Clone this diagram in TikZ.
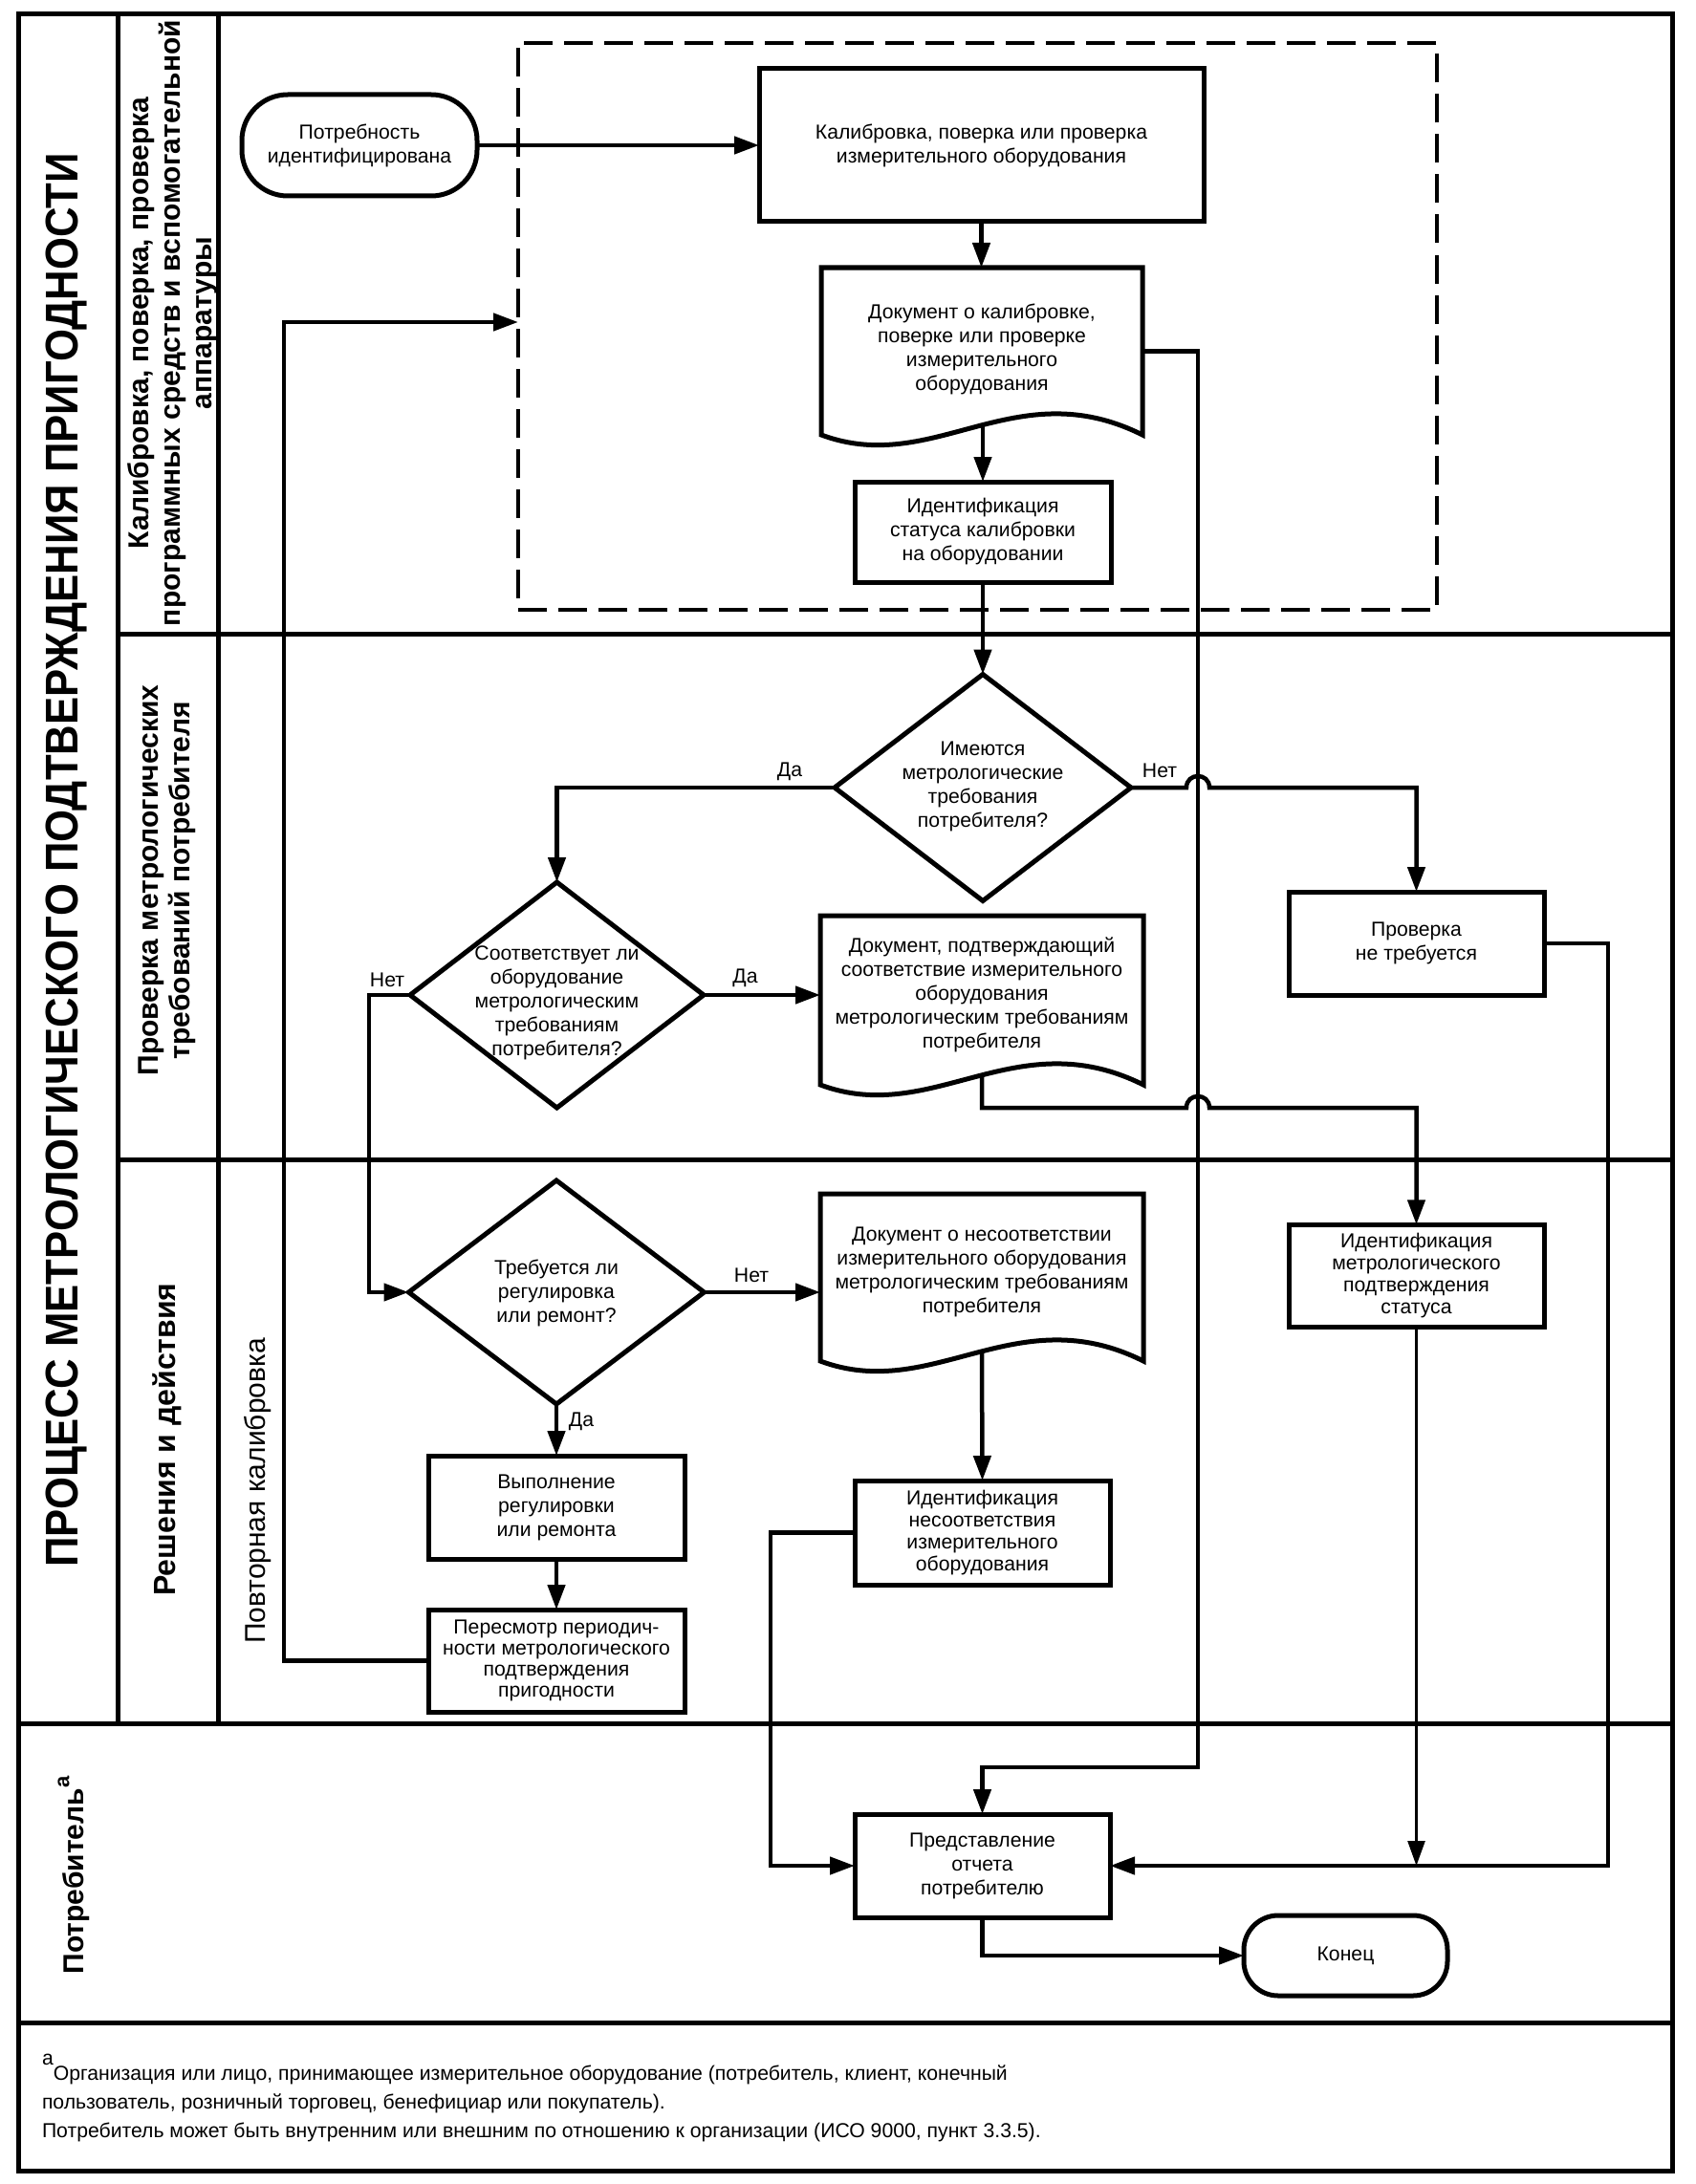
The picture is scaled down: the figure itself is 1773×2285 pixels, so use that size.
\documentclass[tikz,border=0pt]{standalone}
\usepackage{fontspec}
\setmainfont{Liberation Sans}
\usetikzlibrary{arrows.meta,calc,shapes.geometric}
\newcommand\myfontbody{\fontsize{10.6pt}{12.5pt}\selectfont}
\newcommand\myfontlane{\bfseries\fontsize{15pt}{16.5pt}\selectfont}
\newcommand\myfonttitle{\bfseries\fontsize{24pt}{28pt}\selectfont}
\newcommand\docpath[1]{\draw[line width=2.5pt] (#1.south west) .. controls +(118,44) and +(-134,-67) .. (#1.south east) -- (#1.north east) -- (#1.north west) -- cycle;}
\begin{document}
\begin{tikzpicture}[x=0.5pt,y=-0.5pt,
  every node/.style={inner sep=0pt, outer sep=0pt},
  lane/.style={line width=2.5pt},
  procbox/.style={draw, line width=2.5pt, align=center, font=\myfontbody},
  termbox/.style={draw, line width=2.5pt, align=center, font=\myfontbody},
  decision/.style={draw, diamond, line width=2.5pt},
  txt/.style={align=center, font=\myfontbody},
  lbl/.style={font=\myfontbody},
  arr/.style={line width=2.25pt, -{Triangle[length=13pt,width=9pt]}},
  conn/.style={line width=2.25pt},
  thinarr/.style={line width=1.25pt, -{Triangle[length=13pt,width=9pt]}},
]
\useasboundingbox (0,0) rectangle (1773,2285);

% swimlane frame
\draw[lane] (19,15) rectangle (1749,2271);
\draw[lane] (123,15) -- (123,1803);
\draw[lane] (228,15) -- (228,1803);
\draw[lane] (123,663) -- (1749,663);
\draw[lane] (123,1213) -- (1749,1213);
\draw[lane] (19,1803) -- (1749,1803);
\draw[lane] (19,2116) -- (1749,2116);

% lane labels
\node[rotate=90, font=\myfonttitle] (title) at (70,900) {\scalebox{0.91}[1]{ПРОЦЕСС МЕТРОЛОГИЧЕСКОГО ПОДТВЕРЖДЕНИЯ ПРИГОДНОСТИ}};
\node[rotate=90, align=center, font=\myfontlane] (lane1) at (181,338) {Калибровка, поверка, проверка\\программных средств и вспомогательной\\аппаратуры};
\node[rotate=90, align=center, font=\myfontlane] (lane2) at (175,921) {Проверка метрологических\\требований потребителя};
\node[rotate=90, font=\bfseries\fontsize{16pt}{17pt}\selectfont] (lane3) at (175,1506) {Решения и действия};
\node[rotate=90, font=\fontsize{15pt}{16.5pt}\selectfont] (recal) at (270,1560) {Повторная калибровка};
\node[rotate=90, font=\myfontlane] (lane4) at (77,1962) {Потребитель\raisebox{0.5em}{\fontsize{11pt}{11pt}\selectfont a}};

% dashed zone
\node[draw, line width=2pt, dash pattern=on 15pt off 6pt, minimum width=480.25pt, minimum height=296.7pt] (calzone) at (1022.25,341.3) {};

% nodes
\node[termbox, minimum width=123pt, minimum height=53pt, rounded corners=24pt] (start) at (376,152) {Потребность\\идентифицирована};
\node[procbox, minimum width=232.5pt, minimum height=80pt] (calib) at (1026.5,152) {Калибровка, поверка или проверка\\измерительного оборудования};
\node[minimum width=168pt, minimum height=87.5pt] (doc1) at (1027,367.5) {};
\docpath{doc1}
\node[txt] (doc1t) at (1027,365) {Документ о калибровке,\\поверке или проверке\\измерительного\\оборудования};
\node[procbox, minimum width=134pt, minimum height=52.5pt] (id1) at (1028,556.5) {Идентификация\\статуса калибровки\\на оборудовании};
\node[decision, minimum width=155pt, minimum height=118.5pt] (dia1) at (1028,824) {};
\node[txt] (dia1t) at (1028,823) {Имеются\\метрологические\\требования\\потребителя?};
\node[procbox, minimum width=133.5pt, minimum height=54pt] (prov) at (1481.5,987) {Проверка\\не требуется};
\node[decision, minimum width=153.5pt, minimum height=118pt] (dia2) at (582.5,1041) {};
\node[txt] (dia2t) at (582.5,1049) {Соответствует ли\\оборудование\\метрологическим\\требованиям\\потребителя?};
\node[minimum width=169pt, minimum height=88.5pt] (doc2) at (1027,1046.5) {};
\docpath{doc2}
\node[txt] (doc2t) at (1027,1041) {Документ, подтверждающий\\соответствие измерительного\\оборудования\\метрологическим требованиям\\потребителя};
\node[decision, minimum width=154.5pt, minimum height=117pt] (dia3) at (582,1352) {};
\node[txt] (dia3t) at (582,1353) {Требуется ли\\регулировка\\или ремонт?};
\node[minimum width=169pt, minimum height=87.5pt] (doc3) at (1027,1336.5) {};
\docpath{doc3}
\node[txt] (doc3t) at (1027,1331) {Документ о несоответствии\\измерительного оборудования\\метрологическим требованиям\\потребителя};
\node[procbox, minimum width=134pt, minimum height=54pt] (vyp) at (582,1577) {Выполнение\\регулировки\\или ремонта};
\node[procbox, minimum width=134pt, minimum height=53.5pt, font=\fontsize{10.6pt}{11pt}\selectfont] (peres) at (582,1737.5) {Пересмотр периодич-\\ности метрологического\\подтверждения\\пригодности};
\node[procbox, minimum width=133.5pt, minimum height=54.5pt, font=\fontsize{10.6pt}{11.5pt}\selectfont] (id2) at (1027.5,1603.5) {Идентификация\\несоответствия\\измерительного\\оборудования};
\node[procbox, minimum width=133.5pt, minimum height=53.75pt, font=\fontsize{10.6pt}{11.5pt}\selectfont] (id3) at (1481.5,1335) {Идентификация\\метрологического\\подтверждения\\статуса};
\node[procbox, minimum width=133.5pt, minimum height=54pt] (id4) at (1027.5,1952) {Представление\\отчета\\потребителю};
\node[termbox, minimum width=106.5pt, minimum height=42pt, rounded corners=18pt] (konec) at (1407.5,2046) {Конец};

% branch labels
\node[lbl] (l1) at (826,807) {Да};
\node[lbl] (l2) at (1213,806) {Нет};
\node[lbl] (l3) at (405,1025) {Нет};
\node[lbl] (l4) at (779.5,1023) {Да};
\node[lbl] (l5) at (786,1334) {Нет};
\node[lbl] (l6) at (608,1487) {Да};

% connectors
\draw[arr] (start.east) -- (calib.west);
\draw[arr] (calib.south) -- (calib.south |- doc1.north);
\draw[arr] ($(doc1.south)+(1,-10)$) -- (id1.north);
\draw[arr] (id1.south) -- (dia1.north);
\draw[arr] (dia1.west) -| (dia2.north);
\draw[arr] (dia1.east) -- (1241,824) .. controls (1241,808) and (1265,808) .. (1265,824) -| (prov.north);
\draw[arr] (dia2.east) -- (doc2.west |- dia2.east);
\draw[arr] (dia2.west) -- (386,1041) |- (dia3.west);
\draw[arr] (dia3.east) -- (doc3.west |- dia3.east);
\draw[arr] (dia3.south) -- (vyp.north);
\draw[arr] (vyp.south) -- (peres.north);
\draw[arr] (peres.west) -| (297,337) -- (calzone.west |- 297,337);
\draw[arr] ($(doc3.south)+(0,-10)$) -- (id2.north);
\draw[arr] (id2.west) -| (806,1952) -- (id4.west);
\draw[arr] (doc1.east) -| (1253,1849) -| (id4.north);
\draw[arr] ($(doc2.south)+(0,-12)$) -- (1027,1159) -- (1241,1159) .. controls (1241,1143) and (1265,1143) .. (1265,1159) -| (id3.north);
\draw[thinarr] (id3.south) -- (id3.south |- id4.east);
\draw[arr] (prov.east) -| (1682,1952) -- (id4.east);
\draw[arr] (id4.south) |- (konec.west);

% footnote
\node[anchor=base west, font=\myfontbody] (fn1) at (44,2176) {\raisebox{0.75em}{a}Организация или лицо, принимающее измерительное оборудование (потребитель, клиент, конечный};
\node[anchor=base west, font=\myfontbody] (fn2) at (44,2206) {пользователь, розничный торговец, бенефициар или покупатель).};
\node[anchor=base west, font=\myfontbody] (fn3) at (44,2236) {Потребитель может быть внутренним или внешним по отношению к организации (ИСО 9000, пункт 3.3.5).};
\end{tikzpicture}
\end{document}
